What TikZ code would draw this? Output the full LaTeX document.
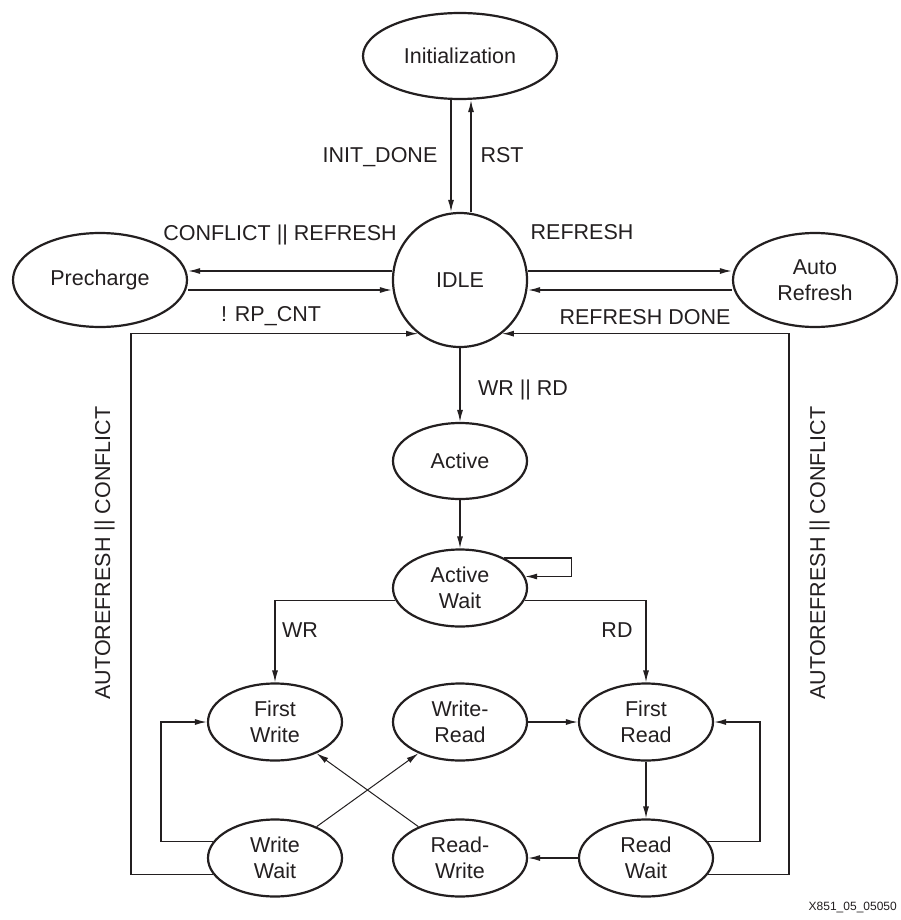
\documentclass[tikz,border=0pt]{standalone}
\usepackage{fontspec}
\setmainfont{Liberation Sans}
\usetikzlibrary{shapes.geometric}
\usetikzlibrary{arrows.meta}

\definecolor{ink}{RGB}{35,31,32}
\newcommand{\statefont}{\fontsize{21.5}{25.5}\selectfont}

\tikzset{
 st/.style={ellipse, draw=ink, line width=2.2pt, fill=white, inner sep=0pt,
   minimum width=134pt, minimum height=77pt, align=center, text=ink, font=\statefont},
 tr/.style={draw=ink, line width=1.3pt, -{Latex[length=12pt,width=6pt]}},
 lbl/.style={inner sep=0pt, anchor=base, text=ink, font=\statefont},
}

\begin{document}
\begin{tikzpicture}[x=1pt, y=-1pt]
\fill[white] (0,0) rectangle (900,920);
\useasboundingbox (0,0) rectangle (900,920);

% states
\node[st, minimum width=194pt, minimum height=86pt] (init) at (460,56) {Initialization};
\node[st, circle, minimum size=134pt] (idle) at (460,280) {IDLE};
\node[st, minimum width=174pt, minimum height=94pt] (pre) at (100,280) {Precharge};
\node[st, minimum width=164pt, minimum height=94pt] (auto) at (815,280) {Auto\\Refresh};
\node[st, minimum height=76pt] (act) at (460,461) {Active};
\node[st] (aw) at (460,588) {Active\\Wait};
\foreach \n/\x/\y/\t in {fw/275/722/{First\\Write}, wrd/460/722/{Write-\\Read},
  fr/646/722/{First\\Read}, ww/275/858/{Write\\Wait}, rdw/460/858/{Read-\\Write},
  rw/646/858/{Read\\Wait}}
  \node[st] (\n) at (\x,\y) {\t};

% top part
\draw[tr] ([xshift=-9pt]init.south) -- ([xshift=-9pt]idle.north);
\draw[tr] ([xshift=11pt]idle.north) -- ([xshift=11pt]init.south);
\draw[tr] ([yshift=9pt]idle.west) -- ([yshift=9pt]pre.east);
\draw[tr] ([yshift=-10pt]pre.east) -- ([yshift=-10pt]idle.west);
\draw[tr] ([yshift=9pt]idle.east) -- ([yshift=9pt]auto.west);
\draw[tr] ([yshift=-10pt]auto.west) -- ([yshift=-10pt]idle.east);

% back to IDLE
\draw[tr] (ww.195) -| ([xshift=-287pt]idle.232) -- (idle.232);
\draw[tr] (rw.345) -| ([xshift=287pt]idle.308) -- (idle.308);

% activate
\draw[tr] (idle.south) -- (act.north);
\draw[tr] (act.south) -- (aw.north);
\draw[tr] (aw.34) -| ([xshift=46pt]aw.10) -- (aw.10);
\draw[tr] (aw.191) -| (fw.north);
\draw[tr] (aw.349) -| (fr.north);

% write / read
\draw[tr] (wrd.east) -- (fr.west);
\draw[tr] (fr.south) -- (rw.north);
\draw[tr] (rw.west) -- (rdw.east);
\draw[tr] (ww.165) -| ([xshift=-46pt]fw.west) -- (fw.west);
\draw[tr] (rw.15) -| ([xshift=46pt]fr.east) -- (fr.east);
\draw[tr, line width=1pt] (ww.37) -- (wrd.217);
\draw[tr, line width=1pt] (rdw.143) -- (fw.323);

% labels
\node[lbl] (linit) at (380,163) {INIT\_DONE};
\node[lbl] (lrst) at (502,163) {RST};
\node[lbl] (lconf) at (280,240) {CONFLICT || REFRESH};
\node[lbl] (lrp) at (271,321) {! RP\_CNT};
\node[lbl] (lref) at (582,239) {REFRESH};
\node[lbl] (ldone) at (645,324) {REFRESH DONE};
\node[lbl] (lwrrd) at (523,395) {WR || RD};
\node[lbl] (lwr) at (300,637) {WR};
\node[lbl] (lrd) at (617,637) {RD};
\node[lbl, rotate=90] (lautol) at (110,553) {AUTOREFRESH || CONFLICT};
\node[lbl, rotate=90] (lautor) at (825,553) {AUTOREFRESH || CONFLICT};
\node[lbl, anchor=base east, font=\fontsize{12}{14}\selectfont] (fig) at (897,910) {X851\_05\_05050};
\end{tikzpicture}
\end{document}
